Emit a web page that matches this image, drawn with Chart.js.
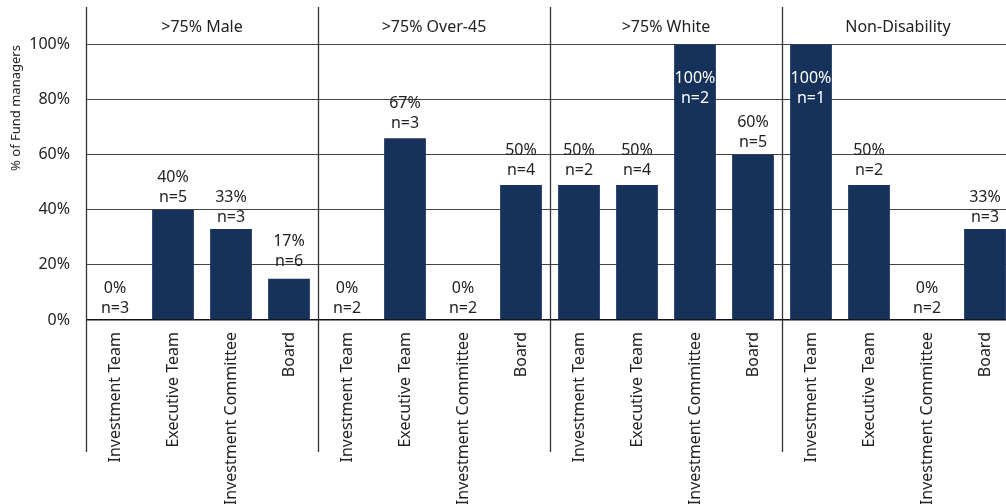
<!DOCTYPE html>
<html lang="en">
  <head>
    <meta charset="UTF-8" />
    <title>Fund managers</title>
    <script src="https://cdn.jsdelivr.net/npm/chart.js"></script>
    <style>
      body {
        margin: 0;
        overflow: hidden;
        background: #fff;
        font-family: "Noto Sans", sans-serif;
      }
      .wrap {
        width: 1022px;
        height: 520px;
        position: relative;
      }
    </style>
  </head>
  <body>
    <div class="wrap"><canvas id="chart"></canvas></div>

    <script>
      const groups = [">75% Male", ">75% Over-45", ">75% White", "Non-Disability"];
      const categories = ["Investment Team", "Executive Team", "Investment Committee", "Board"];
      // bar heights as drawn
      const barValues = [0, 40, 33, 15, 0, 66, 0, 49, 49, 49, 100, 60, 100, 49, 0, 33];
      // printed labels
      const pctLabels = ["0%", "40%", "33%", "17%", "0%", "67%", "0%", "50%",
                         "50%", "50%", "100%", "60%", "100%", "50%", "0%", "33%"];
      const counts = [3, 5, 3, 6, 2, 3, 2, 4, 2, 4, 2, 5, 1, 2, 2, 3];
      const yTicks = [0, 20, 40, 60, 80, 100];

      const barColor = "#17325a";
      const font = '"Noto Sans", sans-serif';
      const labels = groups.flatMap(() => categories);

      const panelPlugin = {
        id: "panels",
        afterDatasetsDraw(chart) {
          const { ctx, scales } = chart;
          const x = scales.x, y = scales.y;
          const step = x.getPixelForValue(1) - x.getPixelForValue(0);
          ctx.save();
          ctx.font = "16px " + font;
          ctx.textAlign = "center";
          ctx.textBaseline = "middle";

          // value labels
          barValues.forEach((v, i) => {
            const cx = x.getPixelForValue(i);
            const val = parseFloat(pctLabels[i]);
            const top = y.getPixelForValue(val);
            if (val >= 100) {
              ctx.fillStyle = "#fff";
              ctx.fillText(pctLabels[i], cx, top + 34);
              ctx.fillText("n=" + counts[i], cx, top + 54);
            } else {
              ctx.fillStyle = "#222";
              ctx.fillText(pctLabels[i], cx, top - 32);
              ctx.fillText("n=" + counts[i], cx, top - 12);
            }
          });

          // headers
          ctx.fillStyle = "#222";
          groups.forEach((g, gi) => {
            const left = x.getPixelForValue(gi * 4) - step / 2;
            ctx.fillText(g, left + step * 2, 27);
          });

          // vertical separators
          ctx.strokeStyle = "#333";
          ctx.lineWidth = 1.3;
          for (let gi = 0; gi < groups.length; gi++) {
            const px = Math.round(x.getPixelForValue(gi * 4) - step / 2) + 0.5;
            ctx.beginPath();
            ctx.moveTo(px, 7);
            ctx.lineTo(px, 452);
            ctx.stroke();
          }

          // y title
          ctx.translate(16, 108);
          ctx.rotate(-Math.PI / 2);
          ctx.font = "13px " + font;
          ctx.fillText("% of Fund managers", 0, 0);
          ctx.restore();
        },
      };

      new Chart(document.getElementById("chart"), {
        type: "bar",
        data: {
          labels: labels,
          datasets: [
            {
              data: barValues,
              backgroundColor: barColor,
              barPercentage: 0.72,
              categoryPercentage: 1,
            },
          ],
        },
        options: {
          responsive: true,
          maintainAspectRatio: false,
          animation: false,
          layout: { padding: { top: 7, right: 8, left: 0, bottom: 0 } },
          plugins: { legend: { display: false }, tooltip: { enabled: false } },
          scales: {
            x: {
              grid: { display: false },
              border: { display: false },
              afterFit(scale) {
                scale.height = 200;
              },
              ticks: {
                autoSkip: false,
                maxRotation: 90,
                minRotation: 90,
                padding: 4,
                color: "#222",
                font: { family: font, size: 16 },
              },
            },
            y: {
              min: 0,
              max: 106.9,
              afterFit(scale) {
                scale.width = 86;
              },
              afterBuildTicks(scale) {
                scale.ticks = yTicks.map((v) => ({ value: v }));
              },
              border: { display: false },
              grid: {
                drawTicks: false,
                color: (c) => (c.tick && c.tick.value === 0 ? "#111" : "#444"),
                lineWidth: (c) => (c.tick && c.tick.value === 0 ? 1.6 : 1),
              },
              ticks: {
                padding: 16,
                color: "#222",
                font: { family: font, size: 16 },
                callback: (v) => v + "%",
              },
            },
          },
        },
        plugins: [panelPlugin],
      });
    </script>
  </body>
</html>
